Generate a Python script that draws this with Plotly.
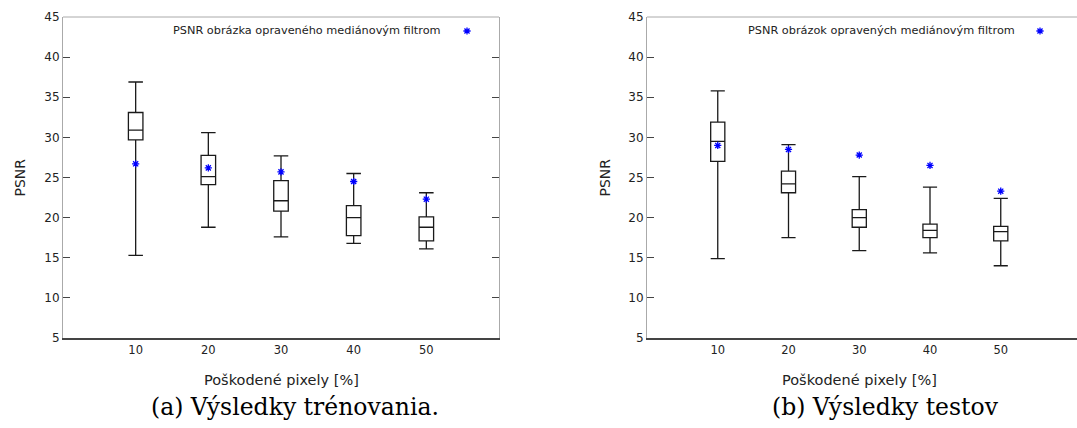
import plotly.graph_objects as go

# ---------------- data ----------------
damage = [10, 20, 30, 40, 50]

train_low = [15.3, 18.8, 17.6, 16.8, 16.1]
train_q1 = [29.7, 24.1, 20.8, 17.75, 17.1]
train_med = [30.9, 25.1, 22.1, 20.0, 18.8]
train_q3 = [33.1, 27.75, 24.6, 21.5, 20.1]
train_high = [36.9, 30.6, 27.7, 25.5, 23.1]
train_median_filter = [26.7, 26.2, 25.7, 24.5, 22.3]

test_low = [14.9, 17.5, 15.9, 15.6, 14.0]
test_q1 = [27.0, 23.1, 18.8, 17.5, 17.1]
test_med = [29.5, 24.2, 20.0, 18.4, 18.25]
test_q3 = [31.9, 25.8, 21.0, 19.2, 18.9]
test_high = [35.8, 29.1, 25.1, 23.8, 22.4]
test_median_filter = [29.0, 28.5, 27.8, 26.5, 23.3]

y_ticks = [5, 10, 15, 20, 25, 30, 35, 40, 45]
legend_train = "PSNR obrázka opraveného mediánovým filtrom"
legend_test = "PSNR obrázok opravených mediánovým filtrom"
x_title = "Poškodené pixely [%]"
y_title = "PSNR"
caption_a = "(a) Výsledky trénovania."
caption_b = "(b) Výsledky testov"

# ---------------- style ----------------
W, H = 1077, 428
FONT = "DejaVu Sans"
TXT = "#222222"
BOX_LINE = "#1a1a1a"
STAR = "#0000ff"
STAR_MARKER = dict(symbol="asterisk-open", size=6, color=STAR,
                   line=dict(color=STAR, width=1.3))

fig = go.Figure()

def add_panel(idx, low, q1, med, q3, high, stars):
    xa = "x" if idx == 1 else "x2"
    ya = "y" if idx == 1 else "y2"
    fig.add_trace(go.Box(
        x=damage, lowerfence=low, q1=q1, median=med, q3=q3, upperfence=high,
        width=2, whiskerwidth=1, boxpoints=False,
        fillcolor="rgba(255,255,255,0)",
        line=dict(color=BOX_LINE, width=1.3),
        xaxis=xa, yaxis=ya, showlegend=False, hoverinfo="skip"))
    fig.add_trace(go.Scatter(
        x=damage, y=stars, mode="markers", marker=STAR_MARKER,
        xaxis=xa, yaxis=ya, showlegend=False, hoverinfo="skip"))

add_panel(1, train_low, train_q1, train_med, train_q3, train_high, train_median_filter)
add_panel(2, test_low, test_q1, test_med, test_q3, test_high, test_median_filter)

# legend keys (on a hidden full-page axis)
fig.add_trace(go.Scatter(
    x=[467 / W, 1040 / W], y=[1 - 31 / H, 1 - 31 / H], mode="markers",
    marker=STAR_MARKER,
    xaxis="x3", yaxis="y3", showlegend=False, hoverinfo="skip"))

ydom = [1 - 338 / H, 1 - 17 / H]
left_dom = [63 / W, 499 / W]
right_dom = [647 / W, 1.0]

def xaxis(dom, rng, anchor):
    return dict(domain=dom, range=rng, tickvals=damage, ticks="", anchor=anchor,
                showline=True, linecolor="#444444", linewidth=2,
                showgrid=False, zeroline=False, automargin=False,
                tickfont=dict(family=FONT, size=11.5, color=TXT))

def yaxis(anchor, mirror):
    return dict(domain=ydom, range=[5, 45], tickvals=y_ticks, anchor=anchor,
                ticks="inside", ticklen=7, tickcolor="#444444", tickwidth=1,
                showline=True, linecolor="#aaaaaa", linewidth=1,
                mirror=mirror, showgrid=False, zeroline=False, automargin=False,
                tickfont=dict(family=FONT, size=12, color=TXT))

fig.update_layout(
    width=W, height=H,
    margin=dict(l=0, r=0, t=0, b=0, pad=0, autoexpand=False),
    paper_bgcolor="white", plot_bgcolor="rgba(0,0,0,0)",
    showlegend=False,
    xaxis=xaxis(left_dom, [0, 60], "y"),
    yaxis=yaxis("x", "ticks"),
    xaxis2=xaxis(right_dom, [0, (W - 647) / 7.075], "y2"),
    yaxis2=yaxis("x2", False),
    xaxis3=dict(domain=[0, 1], range=[0, 1], visible=False, anchor="y3", fixedrange=True),
    yaxis3=dict(domain=[0, 1], range=[0, 1], visible=False, anchor="x3", fixedrange=True),
)

# top borders
for xr, yr in (("x domain", "y domain"), ("x2 domain", "y2 domain")):
    fig.add_shape(type="line", xref=xr, yref=yr, x0=0, x1=1, y0=1, y1=1,
                  line=dict(color="#aaaaaa", width=1))

def ann(text, x, y, size=12, family=FONT, xanchor="center", angle=0, color=TXT):
    fig.add_annotation(text=text, x=x, y=y, xref="paper", yref="paper",
                       xanchor=xanchor, yanchor="middle", showarrow=False,
                       textangle=angle, font=dict(family=family, size=size, color=color))

ann(legend_train, 443 / W, 1 - 31 / H, size=11.3, xanchor="right")
ann(legend_test, 1017 / W, 1 - 31 / H, size=11.3, xanchor="right")
ann(x_title, 281 / W, 1 - 380 / H, size=14.5)
ann(x_title, 859.5 / W, 1 - 380 / H, size=14.5)
ann(y_title, 20 / W, 1 - 177.5 / H, size=14, angle=-90)
ann(y_title, 605 / W, 1 - 177.5 / H, size=14, angle=-90)
ann(caption_a, 295 / W, 1 - 407 / H, size=23.5, family="DejaVu Serif", color="#000000")
ann(caption_b, 885 / W, 1 - 407 / H, size=23.5, family="DejaVu Serif", color="#000000")

fig.write_html("out.html",
               config={"displayModeBar": False},
               post_script="document.body.style.margin='0';document.body.style.overflow='hidden';")
